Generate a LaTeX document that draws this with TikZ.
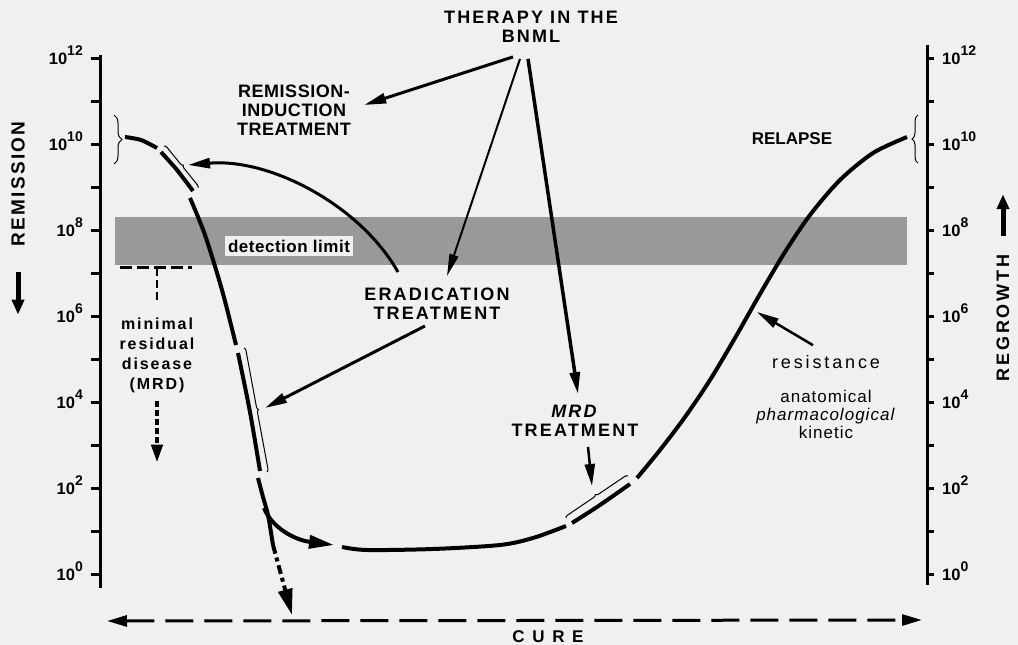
\documentclass[tikz,border=0pt]{standalone}
\usepackage{fontspec}
\setmainfont{Liberation Sans}
\newfontfamily\wide{Liberation Sans}[LetterSpace=12]
\newfontfamily\narrowsp{Liberation Sans}[LetterSpace=3]
\newfontfamily\midsp{Liberation Sans}[LetterSpace=6]
\newfontfamily\wider{Liberation Sans}[LetterSpace=16]
\newfontfamily\widest{Liberation Sans}[LetterSpace=45]
\usetikzlibrary{positioning, arrows.meta, decorations.pathreplacing}
\definecolor{paper}{RGB}{240,240,240}
\newcommand{\tenpow}[1]{10\raisebox{9pt}{\fontsize{14}{14}\selectfont #1}}

\begin{document}
\begin{tikzpicture}[x=1pt,y=-1pt]
\tikzset{
  caps/.style={font=\wide\bfseries\fontsize{18}{19}\selectfont, align=center, inner sep=0pt},
  lbl/.style={font=\wide\bfseries\fontsize{16}{20}\selectfont, align=center, inner sep=0pt},
  plain/.style={font=\midsp\fontsize{17}{18}\selectfont, align=center, inner sep=0pt},
  ticklbl/.style={font=\bfseries\fontsize{16.5}{16}\selectfont, inner sep=0pt},
  axisline/.style={line width=3pt},
  course/.style={line width=4pt},
  arr/.style={line width=3pt, -{Triangle[length=22pt,width=10pt]}},
  thinarr/.style={line width=2pt, -{Triangle[length=22pt,width=9pt]}},
  fat/.style={line width=5pt, -{Triangle[length=15pt,width=12pt]}},
  treatbrace/.style={decorate, decoration={brace, amplitude=#1}, line width=1pt},
  treatbrace/.default=3pt
}

\fill[paper] (0,0) rectangle (1018,645);
\useasboundingbox (0,0) rectangle (1018,645);

% detection band
\fill[black!40] (115,217) rectangle (907,265);
\node[lbl, font=\narrowsp\bfseries\fontsize{17}{20}\selectfont, fill=paper, inner xsep=3pt, inner ysep=4pt] (detect) at (289,246) {detection limit};

% axes
\draw[axisline] (100,55) -- (100,588);
\draw[axisline] (927,45) -- (927,585);
\foreach \d in {0,...,12}{
  \draw[axisline] (91,{574-43*\d}) -- (100,{574-43*\d});
  \draw[axisline] (927,{574-43*\d}) -- (934,{574-43*\d});
}
\foreach \d in {0,2,...,12}{
  \node[ticklbl, anchor=base east] at (83,{580-43*\d}) {\tenpow{\d}};
  \node[ticklbl, anchor=base west] at (942,{580-43*\d}) {\tenpow{\d}};
}

% side labels
\node[caps, font=\wide\bfseries\fontsize{19}{19}\selectfont, rotate=90] (remission) at (18,184) {REMISSION};
\node[caps, font=\wider\bfseries\fontsize{18}{19}\selectfont, rotate=90] (regrowth) at (1003,318) {REGROWTH};
\draw[fat] ([yshift=-25pt]remission.west) -- ([yshift=-68pt]remission.west);
\draw[fat] ([yshift=18pt]regrowth.east) -- ([yshift=60pt]regrowth.east);

% texts
\node[caps] (therapy) at (531,27) {THERAPY IN THE\\BNML};
\node[caps, font=\narrowsp\bfseries\fontsize{18}{19}\selectfont] (remind) at (294,110) {REMISSION-\\INDUCTION\\TREATMENT};
\node[caps] (erad) at (437,304) {ERADICATION\\TREATMENT};
\node[caps] (mrdtreat) at (575,421) {\textit{MRD}\\TREATMENT};
\node[caps, font=\bfseries\fontsize{17}{17}\selectfont] (relapse) at (792,139) {RELAPSE};
\node[lbl] (mrd) at (157,355) {minimal\\residual\\disease\\(MRD)};
\node[plain, font=\wider\fontsize{18}{18}\selectfont] (resist) at (826,362) {resistance};
\node[plain] (causes) at (826,414) {anatomical\\\textit{pharmacological}\\kinetic};
\node[caps, font=\widest\bfseries\fontsize{17}{17}\selectfont] (cure) at (548,637) {CURE};

% course of the disease
\draw[course] plot[smooth] coordinates {(125,137) (141,140) (157,148)};
\draw[course] plot[smooth] coordinates {(161,152) (177,170) (193,191)};
\draw[course] plot[smooth] coordinates {(190,198) (205,235) (222,290) (236,345)};
\draw[course] plot[smooth] coordinates {(238,353) (250,412) (260,471)};
\draw[course] plot[smooth] coordinates {(258,478) (263,497) (268,515) (273,545)};
\draw[course, dash pattern=on 9pt off 4pt on 4pt off 4pt, -{Triangle[length=26pt,width=14pt]}] (273,545) -- (292,615);
\draw[course, -{Triangle[length=25pt,width=13pt]}] (264,508) .. controls (272,528) and (295,540) .. (334,545);
\draw[course] plot[smooth] coordinates {(342,547) (367,550) (433,549) (500,545) (533,538) (566,526)};
\draw[course] plot[smooth] coordinates {(572,523) (600,505) (630,484)};
\draw[course] plot[smooth] coordinates {(637,478) (660,450) (685,417) (710,380) (735,338) (760,294) (785,252) (810,215) (840,180) (873,153) (907,137)};

% treatment brackets
\draw[treatbrace=8pt] (114,115) -- (114,164);
\draw[treatbrace=6pt] (918,163) -- (918,115);
\draw[treatbrace] (164,146) -- (198,188);
\draw[treatbrace] (244,348) -- (267,472);
\draw[treatbrace] (566,518) -- (628,476);

\coordinate (b1tip) at (188,165);
\coordinate (b2tip) at (265,408);
\coordinate (b3tip) at (592,486);
\coordinate (restip) at (757,312);

% minimal residual disease
\draw[line width=3pt, dash pattern=on 12pt off 5pt] (120,267) -- (192,267);
\draw[line width=2.5pt, dash pattern=on 8pt off 4pt] (157,268) -- ([yshift=14pt]mrd.north);
\draw[line width=4pt, dash pattern=on 6pt off 3pt, -{Triangle[length=18pt,width=11pt]}] ([yshift=-8pt]mrd.south) -- ([yshift=-70pt]mrd.south);

% therapy arrows
\draw[arr] ([xshift=-18pt,yshift=-14pt]therapy.south) -- ([xshift=13pt,yshift=5pt]remind.east);
\draw[thinarr] ([xshift=-11pt,yshift=-16pt]therapy.south) -- ([xshift=10pt,yshift=12pt]erad.north);
\draw[arr, line width=3.5pt] ([xshift=-3pt,yshift=-16pt]therapy.south) -- ([xshift=3pt,yshift=11pt]mrdtreat.north);
\draw[arr] ([xshift=-39pt,yshift=16pt]erad.north) .. controls (360,205) and (270,158) .. (b1tip);
\draw[arr] ([xshift=-12pt,yshift=-6pt]erad.south) -- (b2tip);
\draw[arr, line width=2.5pt] ([xshift=13pt,yshift=-10pt]mrdtreat.south) -- (b3tip);
\draw[arr, line width=2.5pt] ([xshift=-13pt,yshift=10pt]resist.north) -- (restip);

% cure
\draw[line width=3pt, dash pattern=on 28pt off 11pt, {Triangle[length=20pt,width=11pt]}-{Triangle[length=20pt,width=11pt]}] (107,621) -- (922,620);
\end{tikzpicture}
\end{document}
